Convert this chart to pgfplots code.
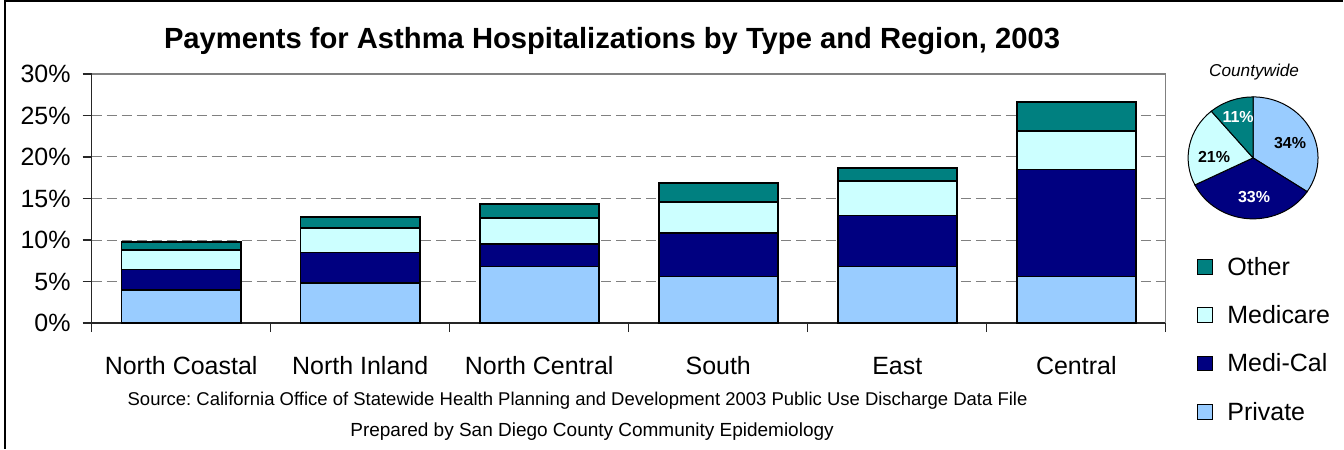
\documentclass[border=0pt]{standalone}
\usepackage{fontspec}
\setmainfont{Liberation Sans}
\usepackage{pgfplots}
\usepackage{pgfplotstable}
\pgfplotsset{compat=1.18}
\frenchspacing

\definecolor{cPrivate}{HTML}{99CCFF}
\definecolor{cMedical}{HTML}{000080}
\definecolor{cMedicare}{HTML}{CCFFFF}
\definecolor{cOther}{HTML}{008080}

% share of payments (%) by region, stacked
\pgfplotstableread{
x private medical medicare other
0 4.00  2.45  2.35 0.95
1 4.80  3.70  2.95 1.35
2 6.80  2.70  3.20 1.65
3 5.60  5.20  3.75 2.30
4 6.80  6.15  4.20 1.50
5 5.60 12.90  4.65 3.50
}\payments

\newcommand{\lbl}{\fontsize{12.5}{15}\selectfont}

\begin{document}
\begin{tikzpicture}[x=0.5pt,y=0.5pt]
\path (0,0) rectangle (1344,449);
\draw[line width=1pt] (5,0) -- (5,447.5) -- (1344,447.5);

\node[anchor=base, font=\fontsize{14.6}{17}\selectfont\bfseries] at (612.5,400) {Payments for Asthma Hospitalizations by Type and Region, 2003};

\begin{axis}[
  at={(45.85pt,62.85pt)}, anchor=south west,
  scale only axis, width=537.5pt, height=124.65pt,
  xmin=-0.5, xmax=5.5, ymin=0, ymax=30,
  ybar stacked, bar width=59.65pt,
  axis x line*=bottom, axis y line*=left,
  axis line style={-, black!85, line width=0.7pt},
  tick align=outside, major tick length=4.5pt,
  tick style={black!85, line width=0.6pt},
  xtick={-0.5,0.5,...,5.5},
  x tick label as interval,
  xticklabels={North Coastal,North Inland,North Central,South,East,Central},
  xticklabel style={font=\lbl, anchor=base, yshift=-21pt},
  ytick={0,5,...,30},
  yticklabel={\pgfmathprintnumber[assume math mode=true]{\tick}\%},
  yticklabel style={font=\lbl, xshift=-2.5pt},
  ymajorgrids, grid style={black!50, dash pattern=on 5pt off 2.5pt, line width=0.5pt},
  reverse legend, legend cell align=left,
  legend image code/.code={\draw[#1, draw=black, line width=0.5pt] (0pt,-2.8pt) rectangle (7.5pt,4.7pt);},
  legend style={at={(1.029,0.266)}, anchor=north west, draw=none, fill=none,
    font=\lbl, inner sep=0pt, row sep=12.5pt, column sep=7pt,
    nodes={inner sep=0pt, text depth=2.6pt}},
]
\addplot[fill=cPrivate, draw=black, line width=0.9pt] table[x=x, y=private] {\payments};
\addplot[fill=cMedical, draw=black, line width=0.9pt] table[x=x, y=medical] {\payments};
\addplot[fill=cMedicare, draw=black, line width=0.9pt] table[x=x, y=medicare] {\payments};
\addplot[fill=cOther, draw=black, line width=0.9pt] table[x=x, y=other] {\payments};
\legend{Private,Medi-Cal,Medicare,Other}
\draw[black!50, line width=0.7pt] (rel axis cs:0,1) -- (rel axis cs:1,1) -- (rel axis cs:1,0);
\end{axis}

% countywide pie: Private, Medi-Cal, Medicare, Other
\def\s{90}
\foreach \v/\c in {34/cPrivate,33/cMedical,21/cMedicare,11/cOther} {
  \pgfmathsetmacro{\e}{\s-\v*360/99}
  \filldraw[fill=\c, draw=black, line width=0.5pt] (1254,291) -- ++(\s:32.5pt and 30.5pt)
    arc[start angle=\s, end angle=\e, x radius=32.5pt, y radius=30.5pt] -- cycle;
  \global\let\s\e
}
\node[font=\fontsize{8}{10}\selectfont\bfseries] at (1291,306) {34\%};
\node[font=\fontsize{8}{10}\selectfont\bfseries, white] at (1255,252) {33\%};
\node[font=\fontsize{8}{10}\selectfont\bfseries] at (1215,292) {21\%};
\node[font=\fontsize{8}{10}\selectfont\bfseries, white] at (1239,332) {11\%};
\node[anchor=base, font=\fontsize{8.6}{10}\selectfont\itshape] at (1255,372) {Countywide};

\node[anchor=base, font=\fontsize{9.25}{11}\selectfont] at (578,43) {Source: California Office of Statewide Health Planning and Development 2003 Public Use Discharge Data File};
\node[anchor=base, font=\fontsize{9.5}{11}\selectfont] at (592.5,12) {Prepared by San Diego County Community Epidemiology};
\end{tikzpicture}
\end{document}
